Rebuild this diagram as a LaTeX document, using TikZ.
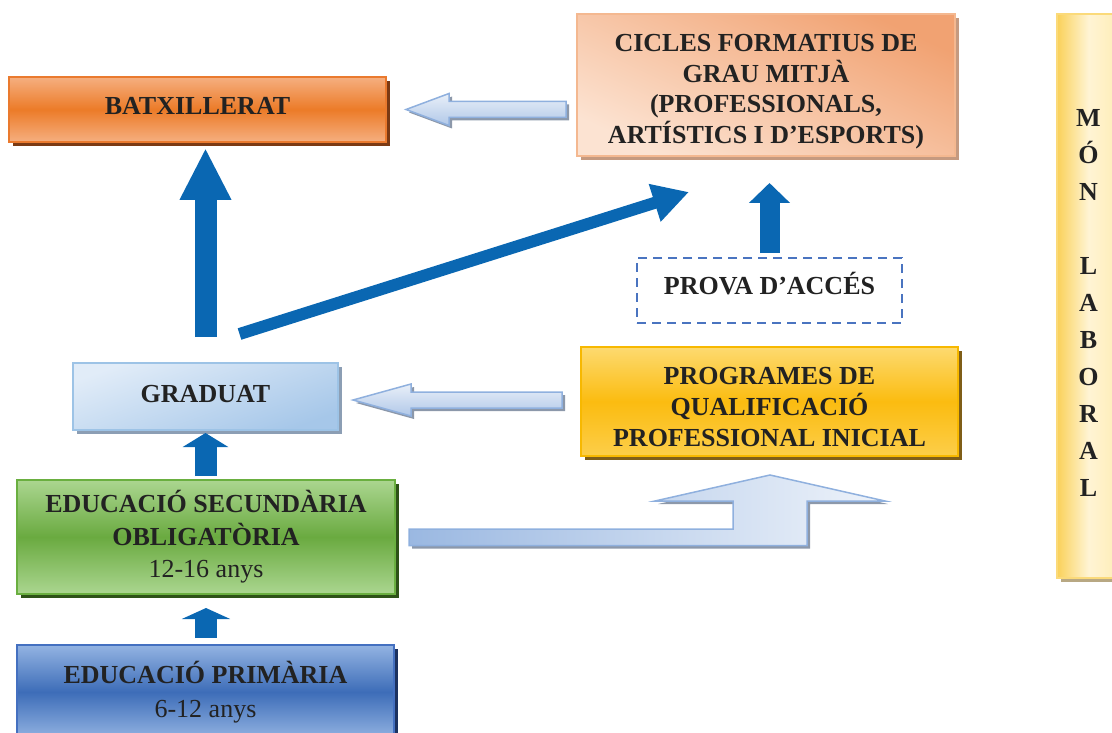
\documentclass[tikz,border=0pt]{standalone}
\usepackage{fontspec}
\setmainfont{Liberation Serif}
\usetikzlibrary{calc,arrows.meta,shadows}

\definecolor{inkgray}{HTML}{222222}
\definecolor{deepblue}{HTML}{0A67B2}
\definecolor{edgeblue}{HTML}{8FB0DE}
\definecolor{arrowshade}{HTML}{8C98AA}
\definecolor{orangelight}{HTML}{F5AF80}
\definecolor{orangemid}{HTML}{EC7B28}
\definecolor{orangeedge}{HTML}{EA7A2E}
\definecolor{orangeshade}{HTML}{7B3A14}
\definecolor{peachdark}{HTML}{F1A272}
\definecolor{peachlight}{HTML}{FCE3D2}
\definecolor{peachedge}{HTML}{F4B890}
\definecolor{peachshade}{HTML}{C59A80}
\definecolor{skylight}{HTML}{E1ECF8}
\definecolor{skydark}{HTML}{A6C7E9}
\definecolor{skyedge}{HTML}{9DC3E6}
\definecolor{skyshade}{HTML}{8C9EB4}
\definecolor{greenlight}{HTML}{ABD690}
\definecolor{greenmid}{HTML}{6AAA40}
\definecolor{greenedge}{HTML}{6AAF40}
\definecolor{greenshade}{HTML}{2E5218}
\definecolor{bluelight}{HTML}{93B3E2}
\definecolor{bluemid}{HTML}{3D6DB8}
\definecolor{blueedge}{HTML}{4470C0}
\definecolor{blueshade}{HTML}{1C3260}
\definecolor{goldlight}{HTML}{FDDA70}
\definecolor{goldmid}{HTML}{FBBC10}
\definecolor{goldedge}{HTML}{F7B800}
\definecolor{goldshade}{HTML}{7F5E18}
\definecolor{creamleft}{HTML}{FAD159}
\definecolor{creammid}{HTML}{FFF4D4}
\definecolor{creamright}{HTML}{FEEDB5}
\definecolor{creamshade}{HTML}{B8A883}
\definecolor{dashblue}{HTML}{4A74C0}

\tikzset{
  stage/.style={draw, line width=2pt, inner sep=0pt, align=center, text=inkgray,
    font=\fontsize{26}{31}\selectfont\bfseries},
  boxshadow/.style={drop shadow={opacity=1,fill=#1,shadow xshift=4pt,shadow yshift=-4pt}},
  flatarrow/.style={draw=edgeblue, line width=1.5pt, top color=white!80!edgeblue,
    bottom color=edgeblue!70!white,
    drop shadow={opacity=1,fill=arrowshade,shadow xshift=3pt,shadow yshift=-3pt}},
  thickarrow/.style={draw=deepblue, line width=22pt}
}

\begin{document}
\begin{tikzpicture}[x=1pt,y=-1pt]
  \useasboundingbox (0,0) rectangle (1112,733);
  % boxes
  \node[stage, draw=orangeedge, top color=orangelight, bottom color=orangelight,
    middle color=orangemid, boxshadow=orangeshade,
    minimum width=377, minimum height=65] (bat) at (197.5,109.5)
    {BATXILLERAT\rule[-8pt]{0pt}{8pt}};
  \node[stage, draw=peachedge, top color=peachdark, bottom color=peachlight,
    shading angle=-25, boxshadow=peachshade, font=\fontsize{26}{30.5}\selectfont\bfseries,
    minimum width=378, minimum height=142] (cicles) at (766,85)
    {\rule{0pt}{31pt}CICLES FORMATIUS DE\\GRAU MITJÀ\\(PROFESSIONALS,\\ARTÍSTICS I D’ESPORTS)};
  \node[stage, draw=skyedge, left color=skylight, right color=skydark,
    shading angle=20, boxshadow=skyshade,
    minimum width=265, minimum height=67] (grad) at (205.5,396.5)
    {GRADUAT\rule[-6pt]{0pt}{6pt}};
  \node[stage, draw=greenedge, top color=greenlight, bottom color=greenlight,
    middle color=greenmid, boxshadow=greenshade, font=\fontsize{26}{32.5}\selectfont,
    minimum width=378, minimum height=114] (eso) at (206,537)
    {\textbf{EDUCACIÓ SECUNDÀRIA}\\\textbf{OBLIGATÒRIA}\\12-16 anys};
  \node[stage, draw=blueedge, top color=bluelight, bottom color=bluelight,
    middle color=bluemid, boxshadow=blueshade, font=\fontsize{26}{34}\selectfont,
    minimum width=377, minimum height=94] (prim) at (205.5,692)
    {\textbf{EDUCACIÓ PRIMÀRIA}\\6-12 anys};
  \node[stage, draw=goldedge, top color=goldlight, bottom color=goldlight!60!goldmid,
    middle color=goldmid, boxshadow=goldshade,
    minimum width=377, minimum height=109] (prog) at (769.5,401.5)
    {\rule{0pt}{29pt}PROGRAMES DE\\QUALIFICACIÓ\\PROFESSIONAL INICIAL};
  \node[stage, draw=dashblue, dashed, dash pattern=on 9pt off 6pt, fill=white,
    minimum width=265, minimum height=65] (prova) at (769.5,290.5)
    {PROVA D’ACCÉS\rule[-14pt]{0pt}{14pt}};
  \node[stage, draw=creamleft!80!white, left color=creamleft, right color=creamright,
    middle color=creammid, boxshadow=creamshade, font=\fontsize{26}{37}\selectfont\bfseries,
    minimum width=63, minimum height=564] (mon) at (1088.5,296)
    {\rule{0pt}{31.5pt}M\\Ó\\N\\[37pt]L\\A\\B\\O\\R\\A\\L};

  % solid arrows
  \draw[thickarrow, -{Triangle[length=52pt,width=48pt]}, shorten <=25pt, shorten >=5pt]
    (grad.north) -- (grad.north |- bat.south);
  \draw[thickarrow, -{Triangle[length=14pt,width=45pt]}, shorten <=3pt, shorten >=2pt]
    (eso.north -| grad.south) -- (grad.south);
  \draw[thickarrow, -{Triangle[length=11pt,width=48pt]}, shorten <=6pt, shorten >=13pt]
    (prim.north -| eso.south) -- (eso.south);
  \draw[thickarrow, line width=20pt, -{Triangle[length=20pt,width=40pt]},
    shorten <=4pt, shorten >=26pt] (prova.north) -- (prova.north |- cicles.south);
  \draw[thickarrow, line width=12pt, -{Triangle[length=36pt,width=37pt]}]
    ($(grad.north)+(34,-28)$) -- ($(cicles.south west)+(113,35)$);

  % hollow arrows
  \coordinate (tipA) at ($(bat.east)+(19,0)$);
  \coordinate (endA) at ($(cicles.west |- bat.east)+(-10,0)$);
  \filldraw[flatarrow] (tipA) -- ++(43,-16) -- ++(0,8) -- ($(endA)+(0,-8)$)
    -- ($(endA)+(0,8)$) -- ($(tipA)+(43,8)$) -- ++(0,8) -- cycle;
  \coordinate (tipB) at ($(grad.east)+(14,3.5)$);
  \coordinate (endB) at ($(prog.west)+(-18,-1.5)$);
  \filldraw[flatarrow] (tipB) -- ++(58,-16) -- ++(0,8) -- ($(endB)+(0,-8)$)
    -- ($(endB)+(0,8)$) -- ($(tipB)+(58,8)$) -- ++(0,8) -- cycle;
  \coordinate (tailC) at ($(eso.east)+(13,0)$);
  \coordinate (tipC) at ($(prog.south)+(0.5,18)$);
  \filldraw[flatarrow, left color=edgeblue!90!white, right color=white!85!edgeblue]
    ($(tailC)+(0,-8)$) -- ($(tipC |- tailC)+(-37,-8)$) -- ($(tipC)+(-37,26)$)
    -- ($(tipC)+(-115,26)$) -- (tipC) -- ($(tipC)+(115,26)$) -- ($(tipC)+(37,26)$)
    -- ($(tipC |- tailC)+(37,8.5)$) -- ($(tailC)+(0,8.5)$) -- cycle;
\end{tikzpicture}
\end{document}
